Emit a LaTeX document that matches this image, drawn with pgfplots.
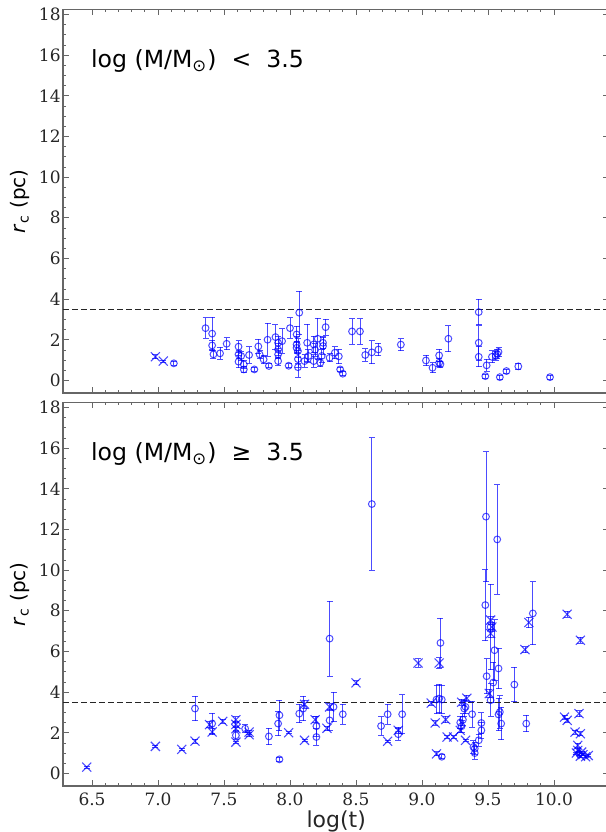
\documentclass[border=0pt]{standalone}
\usepackage{fontspec}
\setmainfont{DejaVu Sans}
\newfontfamily\tickfont{DejaVu Serif}
\usepackage{pgfplots}
\pgfplotsset{compat=1.18}
\usepackage{pgfplotstable}

% top panel: log(M/Msun) < 3.5
\pgfplotstableread{
x y e
7.12 0.84 0.1
7.36 2.57 0.5
7.41 2.30 0.8
7.41 1.72 0.25
7.42 1.28 0.2
7.47 1.33 0.3
7.52 1.80 0.3
7.61 1.66 0.3
7.61 1.28 0.2
7.61 0.92 0.3
7.63 1.20 0.2
7.65 0.79 0.2
7.65 0.54 0.15
7.69 1.25 0.4
7.73 0.54 0.1
7.76 1.67 0.35
7.77 1.28 0.2
7.80 1.03 0.2
7.83 2.00 0.8
7.84 0.71 0.1
7.89 2.13 0.6
7.91 1.85 0.3
7.91 1.52 0.3
7.91 1.28 0.2
7.91 0.95 0.2
7.94 1.93 0.6
7.99 0.72 0.1
8.00 2.57 0.5
8.05 2.26 0.4
8.05 1.77 0.4
8.05 1.60 0.3
8.06 1.44 0.6
8.06 1.05 0.4
8.06 0.65 0.5
8.07 3.33 1.05
8.11 0.95 0.3
8.13 1.85 0.9
8.14 1.20 0.3
8.18 1.77 0.4
8.19 1.50 0.3
8.21 2.05 1.0
8.18 0.95 0.3
8.23 0.87 0.2
8.25 1.69 0.4
8.25 1.85 0.3
8.27 2.62 0.4
8.24 1.20 0.3
8.30 1.11 0.2
8.34 1.36 0.3
8.37 1.18 0.35
8.38 0.54 0.1
8.40 0.33 0.1
8.47 2.41 0.62
8.53 2.41 0.62
8.57 1.25 0.3
8.62 1.38 0.56
8.67 1.52 0.3
8.84 1.76 0.3
9.03 0.98 0.25
9.08 0.62 0.25
9.13 1.23 0.3
9.13 0.87 0.2
9.14 0.80 0.15
9.20 2.05 0.63
9.43 3.36 0.63
9.43 1.85 0.85
9.43 1.16 0.5
9.49 0.74 0.3
9.48 0.21 0.1
9.53 1.16 0.3
9.57 1.30 0.2
9.58 1.40 0.2
9.56 1.20 0.2
9.59 0.16 0.1
9.64 0.46 0.1
9.73 0.69 0.15
9.97 0.16 0.1
}\lowcirc
\pgfplotstableread{
x y e
6.98 1.16 0.1
7.04 0.95 0.05
}\lowcross

% bottom panel: log(M/Msun) >= 3.5
\pgfplotstableread{
x y e
7.28 3.19 0.6
7.41 2.45 0.5
7.59 1.87 0.2
7.66 2.20 0.2
7.84 1.82 0.4
7.91 2.45 0.6
7.92 2.86 0.75
7.92 0.69 0.1
8.07 2.94 0.45
8.10 3.19 0.6
8.20 2.32 0.5
8.20 1.79 0.4
8.30 2.61 0.5
8.30 6.63 1.85
8.33 3.27 0.72
8.40 2.91 0.5
8.62 13.25 3.25
8.69 2.33 0.45
8.74 2.91 0.5
8.82 1.93 0.3
8.85 2.91 0.95
9.14 6.42 1.2
9.11 3.63 0.7
9.13 3.68 0.7
9.15 3.63 0.7
9.15 0.82 0.1
9.29 2.50 0.3
9.30 2.32 0.3
9.31 2.64 0.3
9.32 3.19 0.4
9.33 3.27 0.3
9.38 2.91 0.65
9.39 1.30 0.3
9.40 1.22 0.3
9.40 1.00 0.3
9.43 1.63 0.3
9.45 2.12 0.4
9.45 2.48 0.5
9.485 12.63 3.2
9.48 8.28 1.75
9.49 4.78 0.85
9.52 7.2 2.1
9.52 3.60 0.8
9.54 4.47 1.0
9.55 6.06 1.5
9.57 11.51 2.7
9.58 5.16 1.0
9.58 2.90 0.8
9.59 3.02 0.8
9.60 2.45 0.8
9.70 4.37 0.85
9.79 2.45 0.4
9.84 7.87 1.55
10.19 0.97 0.1
}\highcirc
\pgfplotstableread{
x y e
6.46 0.31 0.05
6.98 1.33 0.05
7.18 1.18 0.05
7.28 1.59 0.1
7.39 2.40 0.15
7.41 2.04 0.15
7.49 2.56 0.1
7.59 2.64 0.15
7.59 2.41 0.15
7.59 2.20 0.1
7.59 1.54 0.05
7.69 2.03 0.1
7.69 1.90 0.1
7.99 2.00 0.05
8.11 3.40 0.2
8.11 1.63 0.05
8.19 2.64 0.15
8.28 2.22 0.1
8.30 3.27 0.15
8.50 4.45 0.1
8.82 2.12 0.15
8.74 1.58 0.05
8.97 5.43 0.2
9.07 3.46 0.1
9.10 2.48 0.1
9.11 0.96 0.1
9.13 5.43 0.25
9.18 2.65 0.15
9.19 1.79 0.05
9.24 1.79 0.05
9.29 2.12 0.1
9.30 3.50 0.15
9.33 1.63 0.05
9.34 3.70 0.15
9.51 3.93 0.2
9.52 7.54 0.2
9.52 6.88 0.2
9.53 7.20 0.2
9.78 6.09 0.15
9.81 7.42 0.25
10.10 7.83 0.15
10.20 6.55 0.15
10.08 2.77 0.1
10.10 2.61 0.1
10.19 2.94 0.15
10.16 2.03 0.1
10.20 1.95 0.1
10.18 1.38 0.1
10.18 1.13 0.1
10.17 1.00 0.05
10.20 0.85 0.05
10.22 0.92 0.05
10.24 0.82 0.05
10.26 0.88 0.05
10.21 1.05 0.05
}\highcross

\pgfplotsset{
  panel/.style={
    scale only axis, width=273.2pt, height=191.8pt,
    xmin=6.28, xmax=10.42, ymin=-0.62, ymax=18.25,
    xtick={6.5,7,...,10}, ytick={0,2,...,18},
    minor x tick num=4, minor y tick num=3,
    tick align=inside, major tick length=3pt, minor tick length=1.5pt,
    tick style={black!60, line width=0.4pt},
    axis line style={black!60, line width=0.6pt},
    /pgf/number format/assume math mode=true,
    tick label style={font=\tickfont\fontsize{8.5}{10}\selectfont, text=black!85},
    yticklabel style={inner sep=1pt},
    ylabel={\textit{r}\textsubscript{c} (pc)},
    ylabel style={font=\fontsize{12}{14}\selectfont, text=black!85},
    every axis y label/.style={at={(ticklabel cs:0.5)}, rotate=90, anchor=south, yshift=0pt},
    clip=false,
  },
  circ/.style={only marks, mark=o, mark size=1.7pt, color=blue, opacity=0.7, line width=0.5pt,
    error bars/.cd, y dir=both, y explicit,
    error mark options={rotate=90, mark size=1.5pt, line width=0.5pt}},
  cross/.style={only marks, mark=x, mark size=3.2pt, color=blue, opacity=0.7, line width=0.55pt,
    error bars/.cd, y dir=both, y explicit,
    error mark options={rotate=90, mark size=1.5pt, line width=0.5pt}},
}

\begin{document}
\begin{tikzpicture}
\useasboundingbox (-31.5pt,-23pt) rectangle (271.5pt,393pt);

\begin{axis}[panel, at={(0pt,196.5pt)}, anchor=south west, xticklabels={}]
  \addplot[circ] table[x=x, y=y, y error=e] {\lowcirc};
  \addplot[cross] table[x=x, y=y, y error=e] {\lowcross};
  \draw[black!85, dashed, line width=0.6pt, dash pattern=on 3pt off 1.5pt] (axis cs:6.28,3.5) -- (axis cs:10.42,3.5);
  \node[anchor=west, inner sep=0pt, font=\fontsize{11.8}{13}\selectfont] at (axis cs:6.49,15.7) {log (M/M\textsubscript{⊙}) {} < {} 3.5};
\end{axis}

\begin{axis}[panel, at={(0pt,0pt)}, anchor=south west,
  xticklabel style={/pgf/number format/.cd, fixed, fixed zerofill, precision=1},
  xlabel={log(t)}, xlabel style={font=\fontsize{11}{12}\selectfont, text=black!85, inner sep=1pt, yshift=2pt}]
  \addplot[circ] table[x=x, y=y, y error=e] {\highcirc};
  \addplot[cross] table[x=x, y=y, y error=e] {\highcross};
  \draw[black!85, dashed, line width=0.6pt, dash pattern=on 3pt off 1.5pt] (axis cs:6.28,3.5) -- (axis cs:10.42,3.5);
  \node[anchor=west, inner sep=0pt, font=\fontsize{11.8}{13}\selectfont] at (axis cs:6.49,15.7) {log (M/M\textsubscript{⊙}) {} ≥ {} 3.5};
\end{axis}
\end{tikzpicture}
\end{document}
